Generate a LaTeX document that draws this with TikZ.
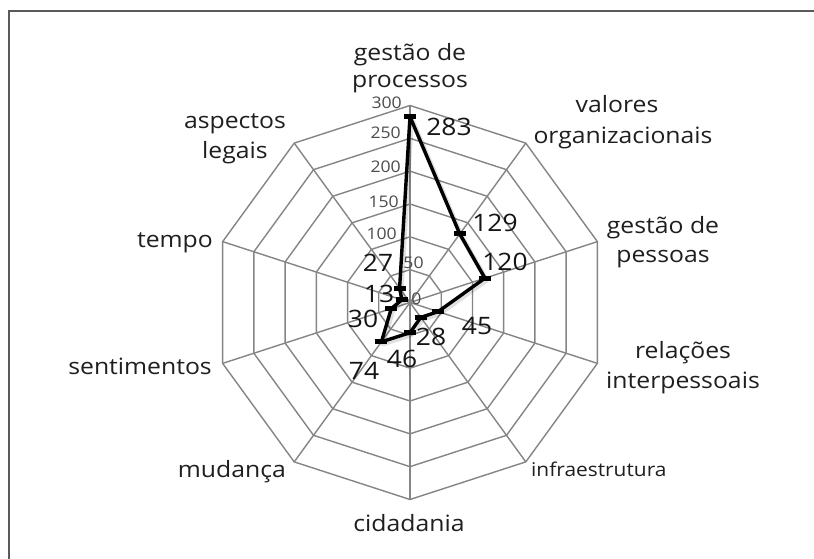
\documentclass[tikz,border=0pt]{standalone}
\usepackage{fontspec}
\setmainfont{Open Sans}[FakeStretch=1.1]
\definecolor{gridc}{HTML}{858585}
\definecolor{axc}{HTML}{4D4D4D}
\definecolor{framec}{HTML}{5A5A5A}
\begin{document}
\begin{tikzpicture}[x=1pt,y=-1pt,
  grid/.style={draw=gridc,line width=1.4pt,line join=miter},
  cat/.style={font=\fontsize{22.5}{28}\selectfont,inner sep=0pt,anchor=base,text=black!88},
  smallcat/.style={font=\fontsize{19}{24}\selectfont,inner sep=0pt,anchor=base,text=black!88},
  val/.style={font=\fontsize{24}{28}\selectfont,inner sep=0pt,text=black!92},
  ticklab/.style={font=\fontsize{16}{18}\selectfont,text=axc,inner sep=0pt},
  series/.style={line width=3.4pt,line join=round,draw=black},
  shade/.style={line width=5pt,line join=round,draw=black,opacity=0.12},
  marker/.style={fill=black,minimum width=12pt,minimum height=5pt,inner sep=0pt,draw=none}]
\useasboundingbox (0,0) rectangle (814,559);
\fill[white] (0,0) rectangle (814,559);
\draw[draw=framec,line width=1.6pt] (814,11) -- (9,11) -- (9,559);

% centre and vertices
\coordinate (O) at (410,302.5);
\foreach \k in {0,...,9}{
  \coordinate (v\k) at ({410+197*cos(90-36*\k)},{302.5-197*sin(90-36*\k)});
}
% rings
\foreach \l in {1,...,6}{
  \pgfmathsetmacro{\rr}{197*\l/6}
  \draw[grid] ({410+\rr*cos(90)},{302.5-\rr*sin(90)})
    \foreach \k in {1,...,9}{ -- ({410+\rr*cos(90-36*\k)},{302.5-\rr*sin(90-36*\k)}) } -- cycle;
}
% spokes
\foreach \k in {0,...,9}{ \draw[grid] (O) -- (v\k); }

% tick labels
\node[ticklab,anchor=east] (t300) at (402,103) {300};
\node[ticklab,anchor=east] (t250) at (401,133) {250};
\node[ticklab,anchor=east] (t200) at (401,167) {200};
\node[ticklab,anchor=east] (t150) at (399,202) {150};
\node[ticklab,anchor=east] (t100) at (397,234) {100};
\node[ticklab] (t50) at (413.5,263) {50};
\node[ticklab] (t0) at (416.5,299) {0};

% data points
\foreach \k/\v in {0/283,1/129,2/120,3/45,4/28,5/46,6/74,7/30,8/13,9/27}{
  \pgfmathsetmacro{\rv}{\v/300*197}
  \coordinate (d\k) at ({410+\rv*cos(90-36*\k)},{302.5-\rv*sin(90-36*\k)});
}
\draw[shade] ([shift={(1.5,2)}]d0) -- ([shift={(1.5,2)}]d1) -- ([shift={(1.5,2)}]d2) -- ([shift={(1.5,2)}]d3) -- ([shift={(1.5,2)}]d4) -- ([shift={(1.5,2)}]d5) -- ([shift={(1.5,2)}]d6) -- ([shift={(1.5,2)}]d7) -- ([shift={(1.5,2)}]d8) -- ([shift={(1.5,2)}]d9) -- cycle;
\draw[series] (d0) -- (d1) -- (d2) -- (d3) -- (d4) -- (d5) -- (d6) -- (d7) -- (d8) -- (d9) -- cycle;
\foreach \k in {0,...,9}{ \node[marker] (m\k) at (d\k) {}; }

% value labels
\node[val] (l283) at (449,127) {283};
\node[val] (l129) at (495,223) {129};
\node[val] (l120) at (505,262) {120};
\node[val] (l45) at (477,326) {45};
\node[val] (l28) at (431,337) {28};
\node[val] (l46) at (402,359) {46};
\node[val] (l74) at (364,371) {74};
\node[val] (l30) at (363,319) {30};
\node[val] (l13) at (379,294) {13};
\node[val] (l27) at (378,263) {27};

% category labels
\node[cat] (c0a) at (410,60.5) {gestão de};
\node[cat] (c0b) at (410,87.5) {processos};
\node[cat] (c1a) at (617,113) {valores};
\node[cat] (c1b) at (623,144) {organizacionais};
\node[cat] (c2a) at (663,233.5) {gestão de};
\node[cat] (c2b) at (663,262) {pessoas};
\node[cat] (c3a) at (683,358) {relações};
\node[cat] (c3b) at (683,388.5) {interpessoais};
\node[smallcat,anchor=base west] (c4) at (531,476) {infraestrutura};
\node[cat] (c5) at (409,531) {cidadania};
\node[cat,anchor=base east] (c6) at (286,477) {mudança};
\node[cat,anchor=base east] (c7) at (212,374) {sentimentos};
\node[cat,anchor=base east] (c8) at (213,247) {tempo};
\node[cat] (c9a) at (235,129) {aspectos};
\node[cat] (c9b) at (235,158.5) {legais};
\end{tikzpicture}
\end{document}
